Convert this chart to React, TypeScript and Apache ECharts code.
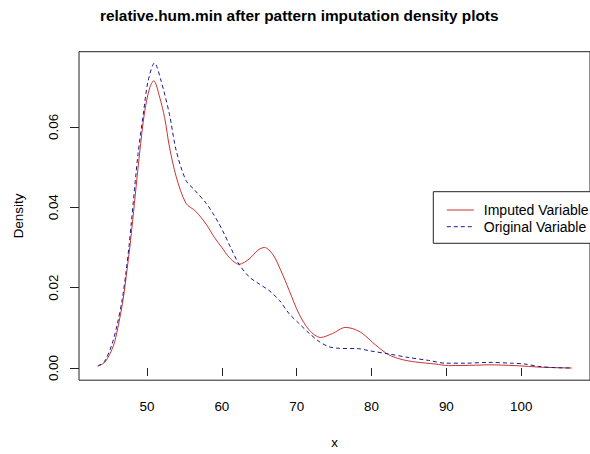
import React, { useEffect, useRef } from "react";
import * as echarts from "echarts";

const titleText = "relative.hum.min after pattern imputation density plots";
const seriesNames = ["Imputed Variable", "Original Variable"];
const xTicks = [50, 60, 70, 80, 90, 100];
const yTicks = [0, 0.02, 0.04, 0.06];

const imputedX = [43.5, 44.4, 45.5, 46.1, 46.8, 47.3, 47.7, 48.1, 49.0, 49.7, 50.36, 50.9, 51.7, 52.35, 53.0, 53.9, 55.2, 56.5, 57.9, 59.0, 60.0, 61.0, 62.3, 63.7, 64.8, 65.7, 66.8, 67.9, 69.0, 70.3, 71.7, 73.2, 74.8, 76.5, 77.5, 78.8, 80.5, 82.3, 84.1, 85.9, 88.5, 90.3, 93.9, 95.6, 99.2, 101.0, 102.7, 104.5, 106.8];
const imputedY = [0.0005, 0.0015, 0.0055, 0.0100, 0.0170, 0.0240, 0.0300, 0.0370, 0.0533, 0.0640, 0.0697, 0.0715, 0.0673, 0.0623, 0.0550, 0.0476, 0.0410, 0.0390, 0.0358, 0.0325, 0.0300, 0.0275, 0.0258, 0.0272, 0.0293, 0.0300, 0.0283, 0.0242, 0.0193, 0.0135, 0.0094, 0.0076, 0.0086, 0.0101, 0.0098, 0.0086, 0.0058, 0.0033, 0.0021, 0.0015, 0.0010, 0.0006, 0.0007, 0.0008, 0.0006, 0.0004, 0.0002, 0.0001, 0.0000];

const originalX = [43.4, 44.3, 45.3, 46.0, 46.7, 47.2, 47.6, 47.9, 48.8, 49.5, 50.13, 51.0, 51.9, 53.0, 53.9, 55.2, 56.35, 57.9, 58.8, 59.5, 60.1, 61.2, 62.3, 63.7, 65.0, 66.3, 67.7, 69.0, 70.3, 71.7, 73.0, 74.3, 75.7, 78.3, 79.7, 82.3, 85.0, 87.6, 89.9, 92.5, 95.6, 98.7, 100.5, 102.3, 104.5, 106.8];
const originalY = [0.0005, 0.0016, 0.0058, 0.0107, 0.0172, 0.0240, 0.0304, 0.0361, 0.0533, 0.0631, 0.0713, 0.0759, 0.0713, 0.0631, 0.0541, 0.0467, 0.0443, 0.0410, 0.0385, 0.0363, 0.0342, 0.0299, 0.0258, 0.0226, 0.0209, 0.0193, 0.0168, 0.0135, 0.0111, 0.0086, 0.0066, 0.0053, 0.0049, 0.0048, 0.0043, 0.0035, 0.0026, 0.0019, 0.0012, 0.0012, 0.0014, 0.0012, 0.0010, 0.0004, 0.0001, 0.0000];

const FONT = "'Liberation Sans', Arial, sans-serif";

export default function App() {
  const ref = useRef<HTMLDivElement>(null);
  useEffect(() => {
    if (!ref.current) return;
    const chart = echarts.init(ref.current, null, { renderer: "svg" });
    const imputed = imputedX.map((x, i) => [x, imputedY[i]]);
    const original = originalX.map((x, i) => [x, originalY[i]]);
    chart.setOption({
      animation: false,
      backgroundColor: "#fff",
      title: {
        text: titleText,
        left: 100,
        top: 8,
        padding: 0,
        textStyle: { fontFamily: FONT, fontSize: 15.4, fontWeight: "bold", color: "#000", lineHeight: 15.4 },
      },
      grid: {
        left: 79,
        right: -2,
        top: 51.7,
        bottom: 70,
        show: true,
        borderColor: "#222",
        borderWidth: 1,
        backgroundColor: "transparent",
      },
      legend: {
        orient: "vertical",
        left: 433.3,
        top: 191.7,
        padding: [11.3, 20, 9.6, 13],
        itemWidth: 27,
        itemHeight: 14,
        itemGap: 2.7,
        borderColor: "#222",
        borderWidth: 1,
        borderRadius: 0,
        backgroundColor: "#fff",
        itemStyle: { opacity: 0 },
        lineStyle: { width: 1 },
        textStyle: { fontFamily: FONT, fontSize: 14, lineHeight: 14, color: "#000", padding: [0, 0, 0, 5] },
        data: seriesNames,
      },
      xAxis: {
        type: "value",
        min: 40.91,
        max: 109.2,
        axisLine: { show: false },
        splitLine: { show: false },
        axisTick: { show: true, inside: false, length: 8, customValues: xTicks, lineStyle: { color: "#222" } },
        axisLabel: {
          customValues: xTicks,
          margin: 19.6,
          fontFamily: FONT,
          fontSize: 13.4,
          lineHeight: 13.4,
          color: "#000",
        },
        name: "x",
        nameLocation: "middle",
        nameGap: 55.4,
        nameTextStyle: { fontFamily: FONT, fontSize: 13.4, lineHeight: 13.4, color: "#000" },
      },
      yAxis: {
        type: "value",
        min: -0.00303,
        max: 0.0787,
        axisLine: { show: false },
        splitLine: { show: false },
        axisTick: { show: true, inside: false, length: 9, customValues: yTicks, lineStyle: { color: "#222" } },
        axisLabel: {
          customValues: yTicks,
          rotate: 90,
          margin: 19.3,
          fontFamily: FONT,
          fontSize: 13.4,
          lineHeight: 13.4,
          color: "#000",
          formatter: (v: number) => v.toFixed(2),
        },
        name: "Density",
        nameLocation: "middle",
        nameGap: 53.5,
        nameRotate: 90,
        nameTextStyle: { fontFamily: FONT, fontSize: 13.4, lineHeight: 13.4, color: "#000" },
      },
      series: [
        {
          name: seriesNames[0],
          type: "line",
          data: imputed,
          symbol: "none",
          showSymbol: false,
          smooth: 0.3,
          lineStyle: { color: "#C83232", width: 1, type: "solid" },
          itemStyle: { color: "#C83232" },
        },
        {
          name: seriesNames[1],
          type: "line",
          data: original,
          symbol: "none",
          showSymbol: false,
          smooth: 0.3,
          lineStyle: { color: "#1A1A90", width: 1, type: [4, 3] },
          itemStyle: { color: "#1A1A90" },
        },
      ],
    });
    return () => chart.dispose();
  }, []);
  return (
    <div
      ref={ref}
      style={{ position: "fixed", left: 0, top: 0, width: 590, height: 454, background: "#fff" }}
    />
  );
}
